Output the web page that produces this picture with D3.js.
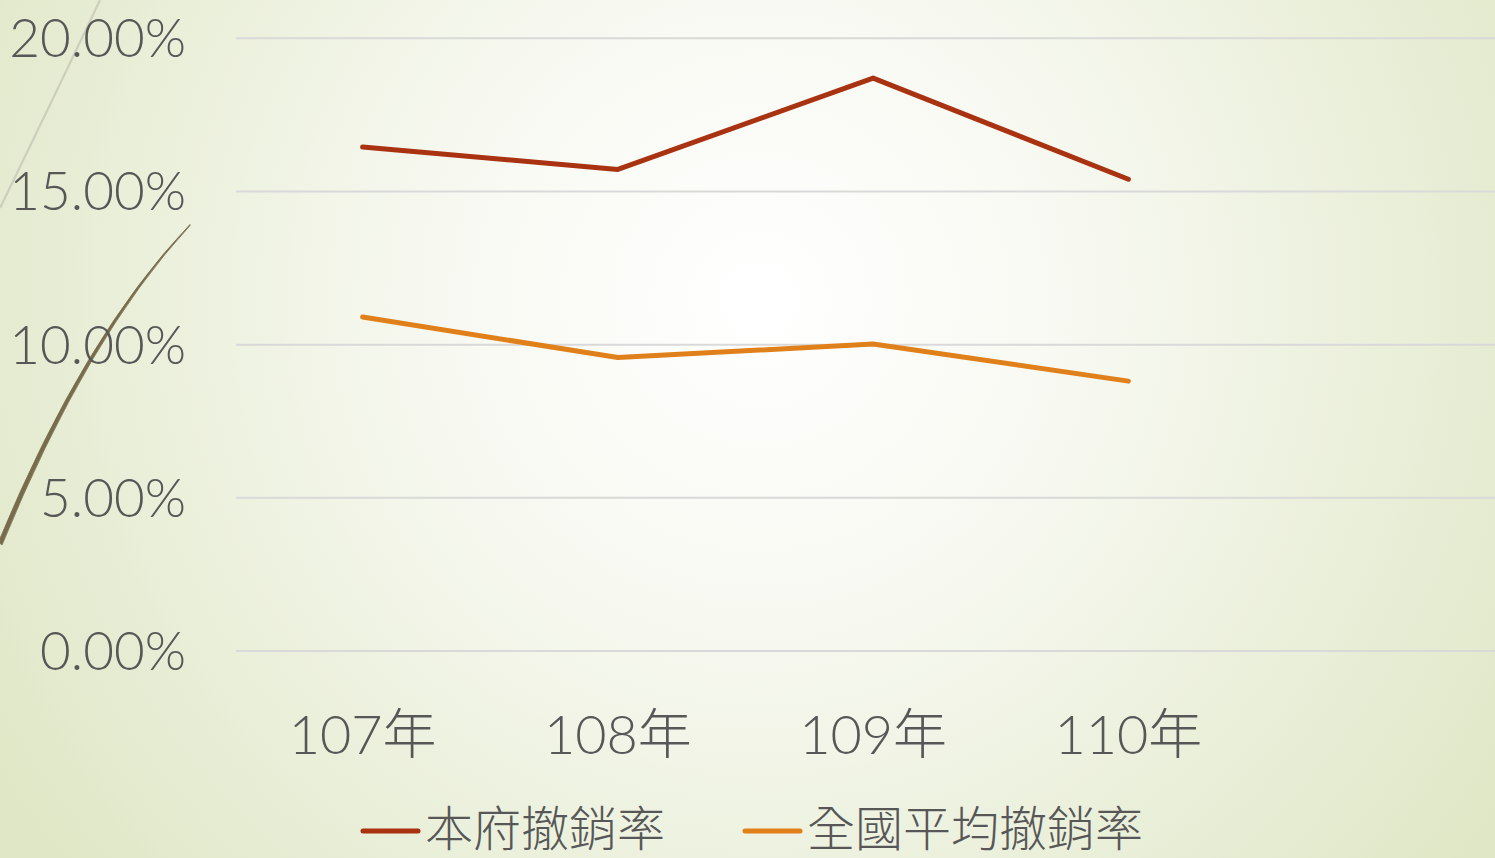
<!DOCTYPE html>
<html><head><meta charset="utf-8">
<script src="https://cdn.jsdelivr.net/npm/d3@7"></script>
<style>
html,body{margin:0;padding:0;overflow:hidden;background:#fff;}
svg{display:block;}
</style></head>
<body>
<script>
const categories = ["107年","108年","109年","110年"];
const seriesNames = ["本府撤銷率","全國平均撤銷率"];
const localRate = [16.45, 15.72, 18.70, 15.40];
const nationalRate = [10.90, 9.58, 10.02, 8.81];
const yTicks = [0, 5, 10, 15, 20];

const W = 1495, H = 858;
const svg = d3.select("body").append("svg").attr("width", W).attr("height", H);
const defs = svg.append("defs");
const rg = defs.append("radialGradient").attr("id","bg")
  .attr("gradientUnits","userSpaceOnUse").attr("cx",760).attr("cy",300).attr("r",900);
rg.append("stop").attr("offset","0").attr("stop-color","#ffffff");
rg.append("stop").attr("offset","0.35").attr("stop-color","#f7f9f1");
rg.append("stop").attr("offset","1").attr("stop-color","#dfe7c6");
svg.append("rect").attr("width",W).attr("height",H).attr("fill","url(#bg)");

// decorative curves
svg.append("path").attr("d","M100,0 Q55,95 0,208").attr("fill","none")
  .attr("stroke","#cdcfbc").attr("stroke-width",2.2);
svg.append("path").attr("d","M190,224.5 Q84,335 -1.5,542 L2,545 Q87,337 190,225.5 Z")
  .attr("fill","#786c4c").attr("stroke","#786c4c").attr("stroke-width",0.8);

const x = d3.scaleBand().domain(categories).range([235, 1256]).padding(0);
const y = d3.scaleLinear().domain([0, 20]).range([651, 38.3]);

const font = "Lato, 'Noto Sans CJK TC', sans-serif";

// gridlines
svg.append("g").selectAll("line").data(yTicks).join("line")
  .attr("x1",236).attr("x2",W).attr("y1",d=>y(d)).attr("y2",d=>y(d))
  .attr("stroke","#d9d9d9").attr("stroke-width",2);

// y labels
svg.append("g").selectAll("text").data(yTicks).join("text")
  .attr("x",186).attr("y",d=>y(d)+19)
  .attr("text-anchor","end").attr("fill","#575757")
  .attr("font-family",font).attr("font-size",53).attr("font-weight",300)
  .text(d=>d3.format(".2f")(d)+"%");

// x labels
svg.append("g").selectAll("text").data(categories).join("text")
  .attr("x",d=>x(d)+x.bandwidth()/2).attr("y",754)
  .attr("text-anchor","middle").attr("fill","#575757")
  .attr("font-family",font).attr("font-size",54).attr("font-weight",300)
  .text(d=>d);

const colors = ["#a93211","#e0801a"];
const line = d3.line().x((d,i)=>x(categories[i])+x.bandwidth()/2).y(d=>y(d));
[localRate, nationalRate].forEach((s,k)=>{
  svg.append("path").datum(s).attr("d",line).attr("fill","none")
    .attr("stroke",colors[k]).attr("stroke-width",5)
    .attr("stroke-linecap","round").attr("stroke-linejoin","round");
});

// legend
const legX = [363, 745];
seriesNames.forEach((n,k)=>{
  const g = svg.append("g");
  g.append("line").attr("x1",legX[k]).attr("x2",legX[k]+55).attr("y1",831).attr("y2",831)
    .attr("stroke",colors[k]).attr("stroke-width",5).attr("stroke-linecap","round");
  g.append("text").attr("x",legX[k]+62).attr("y",846)
    .attr("fill","#575757").attr("font-family",font).attr("font-size",48).attr("font-weight",300)
    .text(n);
});
</script>
</body></html>
